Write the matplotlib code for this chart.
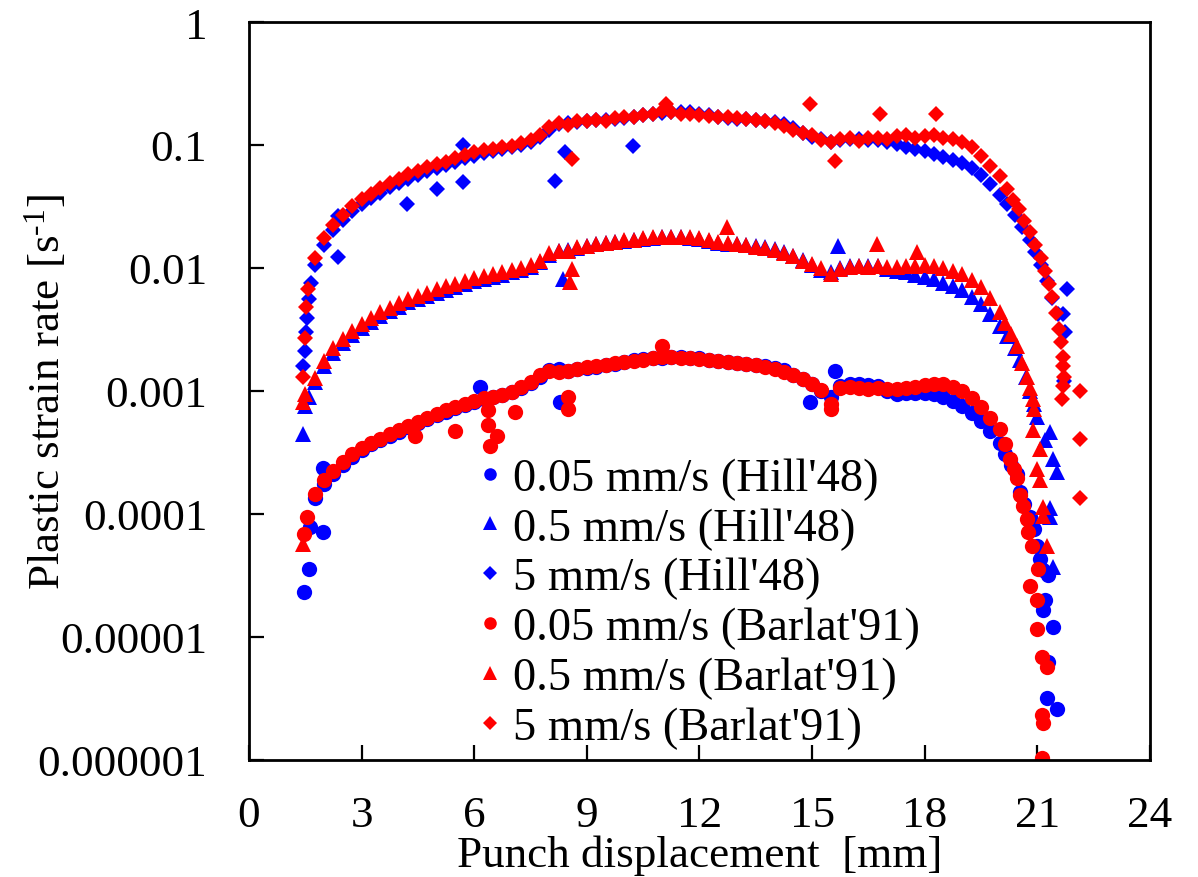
import matplotlib
matplotlib.use('Agg')
import matplotlib.pyplot as plt
import numpy as np
from matplotlib.ticker import NullLocator

# ---------------- data ----------------
X_BODY = [1.75, 2.0, 2.25, 2.5, 2.75, 3.0, 3.25, 3.5, 3.75, 4.0, 4.25, 4.5, 4.75, 5.0,
          5.25, 5.5, 5.75, 6.0, 6.25, 6.5, 6.75, 7.0, 7.25, 7.5, 7.75, 8.0, 8.25, 8.5,
          8.75, 9.0, 9.25, 9.5, 9.75, 10.0, 10.25, 10.5, 10.75, 11.0, 11.25, 11.5, 11.75,
          12.0, 12.25, 12.5, 12.75, 13.0, 13.25, 13.5, 13.75, 14.0, 14.25, 14.5, 14.75,
          15.0, 15.25, 15.5, 15.75, 16.0, 16.25, 16.5, 16.75, 17.0, 17.25, 17.5, 17.75,
          18.0, 18.25, 18.5, 18.75, 19.0, 19.25, 19.5, 19.75, 20.0]

# 5 mm/s (Hill'48)
hill5_body = [0.0105, 0.0155, 0.0205, 0.0245, 0.0290, 0.0330, 0.0372, 0.0410, 0.0455, 0.0490,
              0.0530, 0.0565, 0.0610, 0.0650, 0.0690, 0.0730, 0.0780, 0.0820, 0.0860, 0.0890,
              0.0920, 0.0960, 0.1000, 0.1060, 0.1170, 0.1330, 0.1480, 0.1500, 0.1540, 0.1560,
              0.1590, 0.1610, 0.1640, 0.1670, 0.1700, 0.1740, 0.1790, 0.1820, 0.1850, 0.1860,
              0.1840, 0.1790, 0.1740, 0.1700, 0.1660, 0.1640, 0.1620, 0.1600, 0.1580, 0.1540,
              0.1470, 0.1370, 0.1260, 0.1170, 0.1120, 0.1060, 0.1090, 0.1120, 0.1120, 0.1100,
              0.1090, 0.1050, 0.1010, 0.0970, 0.0930, 0.0890, 0.0850, 0.0800, 0.0760, 0.0720,
              0.0650, 0.0570, 0.0480, 0.0390]
hill5_tail_x = [20.2, 20.4, 20.6, 20.8, 20.95, 21.1, 21.25, 21.4, 21.55]
hill5_tail_y = [0.0330, 0.0270, 0.0215, 0.0168, 0.0135, 0.0105, 0.0078, 0.0057, 0.0042]
hill5_out_x = [1.45, 1.5, 1.52, 1.55, 1.6, 1.65, 2.37, 2.37, 4.2, 5.0, 5.7, 5.7, 8.15, 8.42,
               10.23, 21.8, 21.68, 21.74, 21.72]
hill5_out_y = [0.0016, 0.0021, 0.0030, 0.0039, 0.0056, 0.0075, 0.0266, 0.0122, 0.0332, 0.044,
               0.100, 0.050, 0.051, 0.088, 0.098, 0.0068, 0.0042, 0.0030, 0.0012]

# 5 mm/s (Barlat'91)
bar5_body = [0.0120, 0.0175, 0.0225, 0.0270, 0.0320, 0.0365, 0.0400, 0.0450, 0.0495, 0.0530,
             0.0580, 0.0610, 0.0660, 0.0700, 0.0730, 0.0780, 0.0830, 0.0870, 0.0910, 0.0930,
             0.0960, 0.0990, 0.1030, 0.1090, 0.1200, 0.1400, 0.1500, 0.1450, 0.1560, 0.1580,
             0.1600, 0.1560, 0.1650, 0.1700, 0.1680, 0.1760, 0.1800, 0.1900, 0.1850, 0.1780,
             0.1800, 0.1750, 0.1720, 0.1700, 0.1680, 0.1650, 0.1620, 0.1600, 0.1560, 0.1500,
             0.1430, 0.1330, 0.1250, 0.1200, 0.1100, 0.1050, 0.1120, 0.1150, 0.1080, 0.1130,
             0.1150, 0.1120, 0.1180, 0.1200, 0.1150, 0.1180, 0.1200, 0.1150, 0.1120, 0.1060,
             0.0960, 0.0820, 0.0680, 0.0560]
bar5_tail_x = [20.2, 20.35, 20.5, 20.65, 20.8, 20.95, 21.1, 21.2, 21.3, 21.4, 21.5, 21.58,
               21.64, 21.68, 21.68, 21.7, 21.68, 21.66]
bar5_tail_y = [0.044, 0.036, 0.030, 0.024, 0.0195, 0.0155, 0.0120, 0.0095, 0.0074, 0.0058,
               0.0043, 0.0032, 0.0025, 0.0019, 0.0016, 0.0013, 0.0011, 0.00086]
bar5_out_x = [1.44, 1.49, 1.52, 1.57, 8.6, 11.1, 14.94, 15.6, 16.8, 18.3, 22.14, 22.14, 22.14]
bar5_out_y = [0.0013, 0.0027, 0.0048, 0.0067, 0.077, 0.215, 0.215, 0.074, 0.18, 0.18,
              0.0010, 0.00041, 0.000135]

# 0.5 mm/s (Hill'48)
hill05_body = [0.00118, 0.00160, 0.00205, 0.00245, 0.00285, 0.00325, 0.00365, 0.00405, 0.00445,
               0.00485, 0.00525, 0.00560, 0.00595, 0.00630, 0.00665, 0.00700, 0.00740, 0.00780,
               0.00820, 0.00850, 0.00880, 0.00920, 0.00960, 0.01010, 0.01110, 0.01270, 0.01370,
               0.01400, 0.01460, 0.01510, 0.01560, 0.01600, 0.01630, 0.01660, 0.01690, 0.01720,
               0.01750, 0.01770, 0.01780, 0.01780, 0.01760, 0.01730, 0.01660, 0.01610, 0.01580,
               0.01560, 0.01540, 0.01510, 0.01480, 0.01440, 0.01360, 0.01260, 0.01160, 0.01060,
               0.00970, 0.00920, 0.01000, 0.01030, 0.01040, 0.01040, 0.01030, 0.00990, 0.00950,
               0.00920, 0.00880, 0.00850, 0.00810, 0.00760, 0.00710, 0.00660, 0.00580, 0.00510,
               0.00420, 0.00340]
hill05_tail_x = [20.2, 20.4, 20.55, 20.7, 20.8, 20.9, 21.0]
hill05_tail_y = [0.00280, 0.00225, 0.00180, 0.00130, 0.00100, 0.00078, 0.00062]
hill05_out_x = [1.45, 1.5, 1.6, 8.36, 15.7, 21.34, 21.42, 21.52, 21.34, 21.34, 21.42, 21.2]
hill05_out_y = [0.00045, 0.00075, 0.00090, 0.0081, 0.0150, 0.00046, 0.00028, 0.00022,
                0.000111, 0.000094, 0.000037, 0.00040]

# 0.5 mm/s (Barlat'91)
bar05_body = [0.00128, 0.00175, 0.00222, 0.00265, 0.00305, 0.00350, 0.00390, 0.00435, 0.00475,
              0.00515, 0.00560, 0.00595, 0.00630, 0.00670, 0.00710, 0.00745, 0.00785, 0.00825,
              0.00860, 0.00890, 0.00920, 0.00960, 0.01000, 0.01060, 0.01150, 0.01320, 0.01380,
              0.01380, 0.01470, 0.01520, 0.01570, 0.01590, 0.01640, 0.01680, 0.01700, 0.01740,
              0.01780, 0.01790, 0.01800, 0.01780, 0.01770, 0.01740, 0.01680, 0.01640, 0.01600,
              0.01560, 0.01530, 0.01480, 0.01450, 0.01400, 0.01320, 0.01250, 0.01150, 0.01080,
              0.01000, 0.00900, 0.00980, 0.01020, 0.01030, 0.01020, 0.01030, 0.01010, 0.01020,
              0.01030, 0.01030, 0.01050, 0.01040, 0.01000, 0.00950, 0.00890, 0.00800, 0.00700,
              0.00570, 0.00440]
bar05_tail_x = [20.15, 20.3, 20.45, 20.6, 20.72, 20.8, 20.88, 20.92]
bar05_tail_y = [0.00360, 0.00290, 0.00230, 0.00170, 0.00130, 0.00105, 0.00086, 0.00072]
bar05_out_x = [1.44, 1.45, 1.5, 8.6, 8.55, 12.73, 16.73, 17.8, 20.88, 21.07, 20.99, 21.07,
               21.15, 21.15, 21.26]
bar05_out_y = [0.000057, 0.00082, 0.00095, 0.0098, 0.0077, 0.0215, 0.0157, 0.0135, 0.00048,
               0.00034, 0.00023, 0.00019, 0.000115, 0.000097, 0.000055]

# 0.05 mm/s (Hill'48)
hill005_body = [0.000135, 0.000175, 0.000210, 0.000250, 0.000290, 0.000330, 0.000370, 0.000400,
                0.000430, 0.000460, 0.000510, 0.000550, 0.000590, 0.000640, 0.000680, 0.000730,
                0.000770, 0.000820, 0.000860, 0.000890, 0.000920, 0.000980, 0.001050, 0.001170,
                0.001310, 0.001470, 0.001500, 0.001450, 0.001500, 0.001550, 0.001580, 0.001620,
                0.001670, 0.001720, 0.001770, 0.001810, 0.001840, 0.001860, 0.001880, 0.001880,
                0.001870, 0.001850, 0.001790, 0.001740, 0.001710, 0.001690, 0.001670, 0.001640,
                0.001590, 0.001550, 0.001470, 0.001360, 0.001260, 0.001150, 0.001000, 0.000900,
                0.001100, 0.001150, 0.001130, 0.001110, 0.001090, 0.001000, 0.000950, 0.000960,
                0.000970, 0.000970, 0.000950, 0.000890, 0.000830, 0.000750, 0.000660, 0.000570,
                0.000470, 0.000380]
hill005_tail_x = [20.15, 20.3, 20.45, 20.54, 20.65, 20.8, 20.9, 21.0, 21.07, 21.15, 21.28, 21.2,
                  21.15, 21.42, 21.28, 21.26, 21.52]
hill005_tail_y = [0.00031, 0.00025, 0.00021, 0.000150, 0.000120, 0.000095, 0.000075, 0.000055,
                  0.000043, 0.000035, 0.000032, 0.000020, 0.0000166, 0.000012, 0.0000063,
                  0.0000032, 0.0000026]
hill005_out_x = [1.47, 1.6, 1.62, 1.97, 1.97, 6.15, 8.28, 14.94, 15.6]
hill005_out_y = [0.000023, 0.000036, 0.000079, 0.000071, 0.000237, 0.00108, 0.00082, 0.00082,
                 0.00145]

# 0.05 mm/s (Barlat'91)
bar005_body = [0.000145, 0.000190, 0.000225, 0.000265, 0.000305, 0.000345, 0.000380, 0.000410,
               0.000445, 0.000480, 0.000520, 0.000560, 0.000600, 0.000650, 0.000700, 0.000740,
               0.000790, 0.000830, 0.000870, 0.000900, 0.000930, 0.000990, 0.001070, 0.001190,
               0.001340, 0.001450, 0.001420, 0.001460, 0.001510, 0.001560, 0.001600, 0.001630,
               0.001680, 0.001730, 0.001760, 0.001800, 0.001850, 0.001900, 0.001880, 0.001850,
               0.001860, 0.001830, 0.001780, 0.001750, 0.001720, 0.001690, 0.001660, 0.001620,
               0.001570, 0.001520, 0.001440, 0.001340, 0.001250, 0.001150, 0.001010, 0.000780,
               0.001050, 0.001080, 0.001060, 0.001040, 0.001050, 0.001030, 0.001040, 0.001050,
               0.001080, 0.001110, 0.001140, 0.001140, 0.001080, 0.001000, 0.000880, 0.000740,
               0.000600, 0.000490]
bar005_tail_x = [20.15, 20.27, 20.38, 20.46, 20.54, 20.62, 20.72, 20.75, 20.86, 21.02, 20.8,
                 20.99, 20.99, 21.12, 21.26, 21.12, 21.15, 21.12]
bar005_tail_y = [0.00037, 0.00028, 0.00023, 0.000196, 0.000143, 0.000116, 0.000091, 0.000072,
                 0.000055, 0.000036, 0.000026, 0.000020, 0.0000116, 0.0000069, 0.0000057,
                 0.0000023, 0.0000020, 0.00000103]
bar005_out_x = [1.47, 1.55, 4.42, 5.49, 6.37, 6.37, 6.6, 6.42, 7.09, 8.5, 8.5, 11.0, 15.5]
bar005_out_y = [0.000069, 0.000095, 0.00043, 0.00047, 0.00070, 0.00053, 0.00043, 0.00036,
                0.00067, 0.00089, 0.00071, 0.0023, 0.00072]

LABELS = ["0.05 mm/s (Hill'48)", "0.5 mm/s (Hill'48)", "5 mm/s (Hill'48)",
          "0.05 mm/s (Barlat'91)", "0.5 mm/s (Barlat'91)", "5 mm/s (Barlat'91)"]
X_TICKS = [0, 3, 6, 9, 12, 15, 18, 21, 24]
Y_TICKS = [1e-6, 1e-5, 1e-4, 1e-3, 1e-2, 1e-1, 1]
Y_TICKLABELS = ['0.000001', '0.00001', '0.0001', '0.001', '0.01', '0.1', '1']

# ---------------- style ----------------
plt.rcParams['font.family'] = ['Liberation Serif', 'DejaVu Serif']
plt.rcParams['mathtext.fontset'] = 'custom'
plt.rcParams['mathtext.rm'] = 'Liberation Serif'
plt.rcParams['mathtext.default'] = 'regular'

BLUE = '#0000ff'
RED = '#ff0000'
FS = 32.5
FS_LEG = 33.5

fig = plt.figure(figsize=(11.98, 8.78), dpi=100)
ax = fig.add_axes([0.2078, 0.1333, 0.7521, 0.8405])


def combine(body, tx, ty, ox, oy):
    return np.array(X_BODY + tx + ox), np.array(body + ty + oy)


series = [
    (combine(hill005_body, hill005_tail_x, hill005_tail_y, hill005_out_x, hill005_out_y), 'o', 11.0, BLUE),
    (combine(hill05_body, hill05_tail_x, hill05_tail_y, hill05_out_x, hill05_out_y), '^', 12.0, BLUE),
    (combine(hill5_body, hill5_tail_x, hill5_tail_y, hill5_out_x, hill5_out_y), 'D', 8.5, BLUE),
    (combine(bar005_body, bar005_tail_x, bar005_tail_y, bar005_out_x, bar005_out_y), 'o', 11.0, RED),
    (combine(bar05_body, bar05_tail_x, bar05_tail_y, bar05_out_x, bar05_out_y), '^', 12.0, RED),
    (combine(bar5_body, bar5_tail_x, bar5_tail_y, bar5_out_x, bar5_out_y), 'D', 8.5, RED),
]

for ((x, y), mk, ms, col), lab in zip(series, LABELS):
    ax.plot(x, y, linestyle='none', marker=mk, markersize=ms, color=col,
            markeredgewidth=0, label=lab)

ax.set_yscale('log')
ax.set_xlim(0, 24)
ax.set_ylim(1e-6, 1)
ax.set_xticks(X_TICKS)
ax.set_xticklabels([str(v) for v in X_TICKS])
ax.set_yticks(Y_TICKS)
ax.set_yticklabels(Y_TICKLABELS)
ax.yaxis.set_minor_locator(NullLocator())
ax.xaxis.set_minor_locator(NullLocator())
ax.tick_params(direction='in', length=11, width=1.6, labelsize=FS, top=False, right=False)
ax.tick_params(axis='y', pad=30)
ax.tick_params(axis='x', pad=25)
for s in ax.spines.values():
    s.set_linewidth(2)

ax.set_xlabel('Punch displacement  [mm]', fontsize=FS)
ax.xaxis.set_label_coords(0.5, -0.1016)
ax.set_ylabel('Plastic strain rate [s$^{\u20101}$]', fontsize=FS)
ax.yaxis.set_label_coords(-0.2, 0.5)

ax.legend(loc='upper left', bbox_to_anchor=(0.2536, 0.4100), frameon=False, fontsize=FS_LEG,
          handlelength=0.55, handletextpad=0.22, labelspacing=0.155, borderpad=0,
          borderaxespad=0, numpoints=1, markerscale=0.82)

fig.savefig('out.png', dpi=100)
